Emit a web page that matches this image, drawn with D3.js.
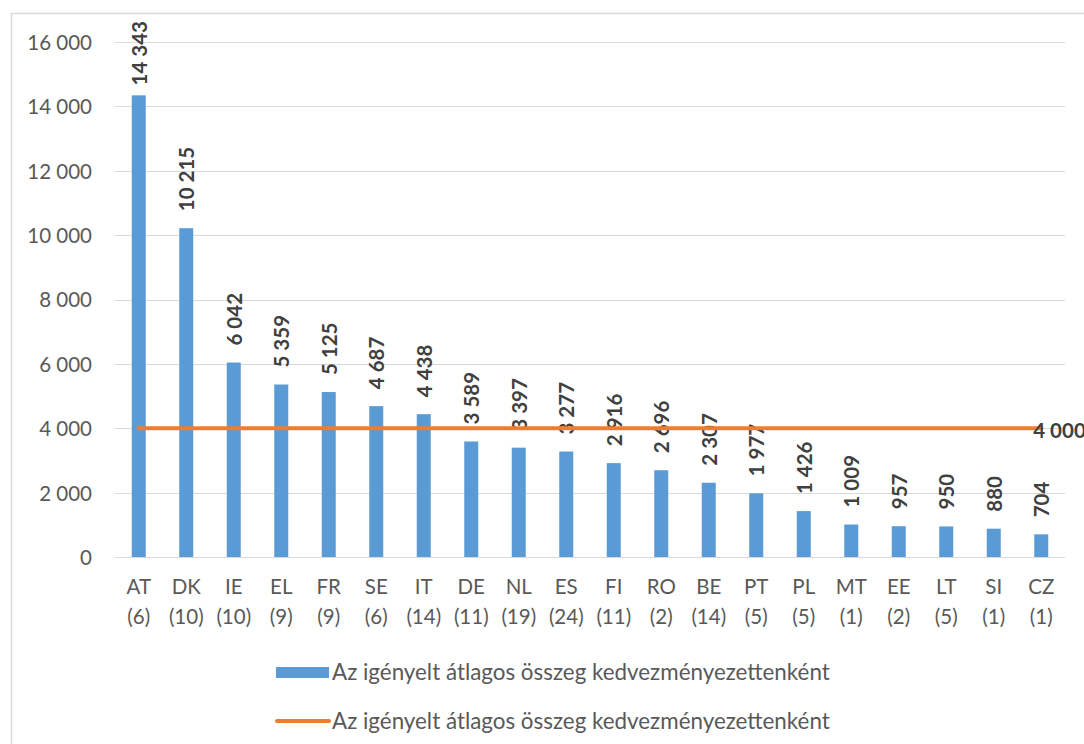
<!DOCTYPE html>
<html>
<head>
<meta charset="utf-8">
<script src="https://cdn.jsdelivr.net/npm/d3@7"></script>
<style>
  html, body { margin: 0; padding: 0; background: #fff; }
  svg { display: block; }
  text { font-family: Lato, "Open Sans", sans-serif; }
</style>
</head>
<body>
<svg id="chart" width="1084" height="744"></svg>
<script>
const countries = ["AT","DK","IE","EL","FR","SE","IT","DE","NL","ES","FI","RO","BE","PT","PL","MT","EE","LT","SI","CZ"];
const counts = ["(6)","(10)","(10)","(9)","(9)","(6)","(14)","(11)","(19)","(24)","(11)","(2)","(14)","(5)","(5)","(1)","(2)","(5)","(1)","(1)"];
const averages = [14343,10215,6042,5359,5125,4687,4438,3589,3397,3277,2916,2696,2307,1977,1426,1009,957,950,880,704];
const threshold = [4000,4000,4000,4000,4000,4000,4000,4000,4000,4000,4000,4000,4000,4000,4000,4000,4000,4000,4000,4000];
const yTicks = [0,2000,4000,6000,8000,10000,12000,14000,16000];
const legendLabels = ["Az igényelt átlagos összeg kedvezményezettenként","Az igényelt átlagos összeg kedvezményezettenként"];

const fmt = v => d3.format(",")(v).replace(/,/g, " ");

const svg = d3.select("#chart");
const plotLeft = 115, plotRight = 1065, plotTop = 42, plotBottom = 557;

// chart border
svg.append("rect").attr("x", 11.5).attr("y", 13.5).attr("width", 1100).attr("height", 800)
  .attr("fill", "none").attr("stroke", "#d9d9d9").attr("stroke-width", 1.5);

const x = d3.scaleBand().domain(countries).range([plotLeft, plotRight]).paddingInner(0.705).paddingOuter(0.3525);
const y = d3.scaleLinear().domain([0, 16000]).range([plotBottom, plotTop]);

// gridlines
svg.append("g").selectAll("line").data(yTicks).join("line")
  .attr("x1", plotLeft).attr("x2", plotRight)
  .attr("y1", d => Math.round(y(d)) + 0.5).attr("y2", d => Math.round(y(d)) + 0.5)
  .attr("stroke", "#d9d9d9").attr("stroke-width", 1);

// y axis labels
const yAxis = d3.axisLeft(y).tickValues(yTicks).tickFormat(fmt).tickSize(0).tickPadding(0);
const gy = svg.append("g").attr("transform", `translate(92,0)`).call(yAxis);
gy.select(".domain").remove();
gy.selectAll("text").attr("font-size", 20.5).attr("fill", "#595959")
  .attr("font-family", "Lato, 'Open Sans', sans-serif").attr("dy", "0.36em").attr("x", 0);

// bars
svg.append("g").selectAll("rect").data(averages).join("rect")
  .attr("x", (d, i) => x(countries[i]))
  .attr("width", x.bandwidth())
  .attr("y", d => y(d))
  .attr("height", d => plotBottom - y(d))
  .attr("fill", "#5b9bd5");

// x axis labels
const xAxis = d3.axisBottom(x).tickSize(0).tickFormat(() => "");
const gx = svg.append("g").attr("transform", `translate(0,${plotBottom})`).call(xAxis);
gx.select(".domain").remove();
gx.selectAll(".tick").each(function(d, i) {
  const t = d3.select(this);
  t.selectAll("text").remove();
  t.append("text").attr("y", 30).attr("dy", "0.36em").attr("text-anchor", "middle")
    .attr("font-size", 20.5).attr("fill", "#595959").text(countries[i]);
  t.append("text").attr("y", 60).attr("dy", "0.36em").attr("text-anchor", "middle")
    .attr("font-size", 20.5).attr("fill", "#595959").text(counts[i]);
});

// bar data labels (rotated)
svg.append("g").selectAll("text").data(averages).join("text")
  .attr("font-size", 20.5).attr("font-weight", "bold").attr("fill", "#404040")
  .attr("text-anchor", "start").attr("dominant-baseline", "central")
  .text(d => fmt(d))
  .each(function(d, i) {
    const len = this.getComputedTextLength();
    const cx = x(countries[i]) + x.bandwidth() / 2;
    let startY = y(d) - 17;
    if (startY - len < 21) startY = 21 + len;
    d3.select(this).attr("transform", `translate(${cx},${startY}) rotate(-90)`);
  });

// threshold line
const line = d3.line().x((d, i) => x(countries[i]) + x.bandwidth() / 2).y(d => y(d));
svg.append("path").datum(threshold).attr("d", line)
  .attr("fill", "none").attr("stroke", "#ed7d31").attr("stroke-width", 4).attr("stroke-linecap", "round");

// threshold label at last point
const lastI = threshold.length - 1;
svg.append("text")
  .attr("x", x(countries[lastI]) + x.bandwidth() / 2 - 8)
  .attr("y", y(threshold[lastI]) + 2)
  .attr("dominant-baseline", "central")
  .attr("font-size", 20.5).attr("font-weight", "bold").attr("fill", "#404040")
  .text(fmt(threshold[lastI]));

// legend
const lg = svg.append("g");
lg.append("rect").attr("x", 276).attr("y", 667).attr("width", 53).attr("height", 11).attr("fill", "#5b9bd5");
lg.append("line").attr("x1", 277).attr("x2", 329).attr("y1", 721).attr("y2", 721)
  .attr("stroke", "#ed7d31").attr("stroke-width", 4).attr("stroke-linecap", "round");
[672, 721].forEach((ly, k) => {
  const t = lg.append("text").attr("x", 332).attr("y", ly).attr("dy", "0.36em")
    .attr("font-size", 20.5).attr("fill", "#595959").text(legendLabels[k]);
  const w = t.node().getComputedTextLength();
  const target = 498;
  t.attr("font-size", 20.5 * target / w);
});
</script>
</body>
</html>
